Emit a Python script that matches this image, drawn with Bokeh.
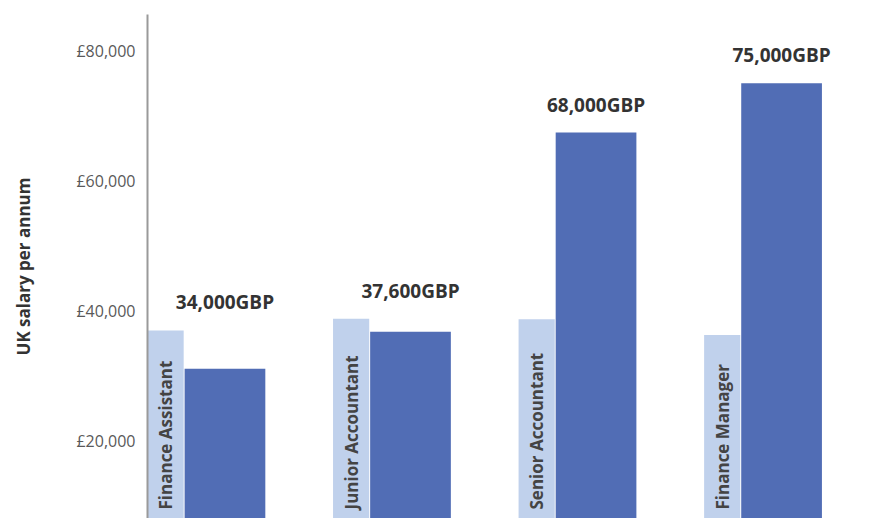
import numpy as np
from bokeh.plotting import figure
from bokeh.models import Range1d, FixedTicker, ColumnDataSource
from bokeh.core.properties import value
from bokeh.embed import file_html
from bokeh.resources import INLINE

# ---- data ----
categories = ["Finance Assistant", "Junior Accountant", "Senior Accountant", "Finance Manager"]
salary_bars = [31100, 36800, 67500, 75100]          # dark bar heights as drawn
label_bars = [37000, 38800, 38700, 36300]           # light label-background bars
value_labels = ["34,000GBP", "37,600GBP", "68,000GBP", "75,000GBP"]
tick_values = [20000, 40000, 60000, 80000]
tick_labels = ["£20,000", "£40,000", "£60,000", "£80,000"]

idx = np.arange(len(categories))
light_w = 0.195
dark_w = 0.435
gap = 0.005
light_x = idx + light_w / 2
dark_x = idx + light_w + gap + dark_w / 2

src = ColumnDataSource(dict(
    cat=categories, light_x=light_x, dark_x=dark_x,
    light=label_bars, dark=salary_bars, lbl=value_labels,
    top=np.maximum(np.array(label_bars), np.array(salary_bars)),
))

p = figure(width=868, height=518, output_backend="svg", toolbar_location=None,
           x_range=Range1d(0, 3.886), y_range=Range1d(8000, 85700),
           min_border_left=147, min_border_right=0, min_border_top=14, min_border_bottom=0)
p.outline_line_color = None
p.xaxis.visible = False
p.xgrid.visible = False
p.ygrid.visible = False
p.background_fill_color = "white"
p.border_fill_color = "white"

p.vbar(x="light_x", top="light", bottom=8000, width=light_w, source=src,
       fill_color="#C0D1EC", line_color=None)
p.vbar(x="dark_x", top="dark", bottom=8000, width=dark_w, source=src,
       fill_color="#516DB5", line_color=None)

p.text(x="dark_x", y="top", text="lbl", source=src, y_offset=-28,
       text_align="center", text_baseline="middle",
       text_font=value("Open Sans"), text_font_style="bold",
       text_font_size="19px", text_color="#333333")

p.text(x="light_x", y=8000, text="cat", source=src, angle=np.pi / 2,
       y_offset=-9, text_align="left", text_baseline="middle",
       text_font=value("Open Sans"), text_font_style="bold",
       text_font_size="17px", text_color="#444444")

ax = p.yaxis[0]
ax.ticker = FixedTicker(ticks=tick_values)
ax.major_label_overrides = {v: l for v, l in zip(tick_values, tick_labels)}
ax.major_tick_line_color = None
ax.minor_tick_line_color = None
ax.axis_line_color = "#9a9a9a"
ax.axis_line_width = 2
ax.major_label_standoff = 6
ax.major_label_text_font = "Open Sans"
ax.major_label_text_font_size = "16px"
ax.major_label_text_color = "#595959"
ax.axis_label = "UK salary per annum"
ax.axis_label_text_font = "Open Sans"
ax.axis_label_text_font_style = "bold"
ax.axis_label_text_font_size = "17px"
ax.axis_label_text_color = "#333333"
ax.axis_label_standoff = 38

open("out.html", "w").write(file_html(p, INLINE))
